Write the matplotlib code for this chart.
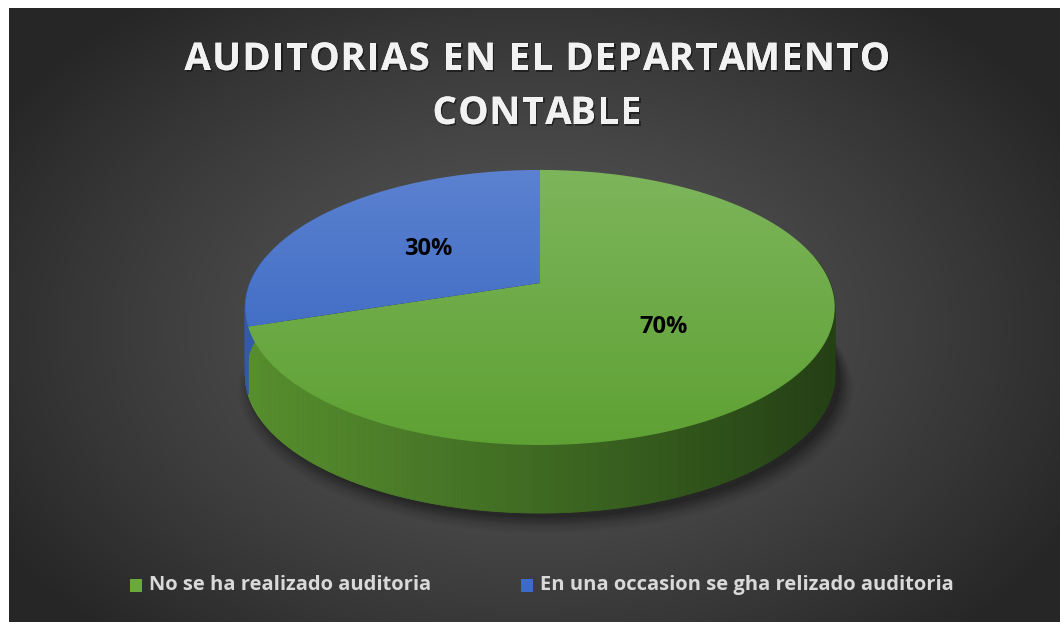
import numpy as np
import matplotlib
matplotlib.use("Agg")
import matplotlib.pyplot as plt
from matplotlib.patches import Polygon, Rectangle
from matplotlib.font_manager import FontProperties
import matplotlib.patheffects as pe

# ---- data ----
categories = ["No se ha realizado auditoria", "En una occasion se gha relizado auditoria"]
values = [70, 30]
pct_labels = ["70%", "30%"]
title_lines = ["AUDITORIAS EN EL DEPARTAMENTO", "CONTABLE"]

# ---- styles ----
top_colors = [((0.49, 0.71, 0.36), (0.37, 0.63, 0.20)),   # green top: light -> darker
              ((0.36, 0.51, 0.82), (0.19, 0.38, 0.74))]   # blue top
side_colors = [((0.34, 0.56, 0.18), (0.14, 0.25, 0.08)),  # green side: left -> right
               ((0.20, 0.35, 0.66), (0.10, 0.18, 0.40))]
legend_colors = ["#6aaa3a", "#3d6cc8"]
FONT = "Open Sans"

W, H = 1060, 622
fig = plt.figure(figsize=(W / 100, H / 100), dpi=100)
fig.patch.set_facecolor("white")
ax = fig.add_axes([0, 0, 1, 1])
ax.set_xlim(0, W)
ax.set_ylim(H, 0)
ax.axis("off")
renderer = fig.canvas.get_renderer()

# ---- background radial gradient ----
x0, y0 = 9, 8
gx, gy = np.meshgrid(np.linspace(x0, W, 400), np.linspace(y0, H, 250))
d = np.sqrt(((gx - 530) / 620) ** 2 + ((gy - 330) / 420) ** 2)
d = np.clip(d, 0, 1)
lum = (0.345 - (0.345 - 0.15) * d ** 1.3)
bg = np.dstack([lum, lum, lum])
ax.imshow(bg, extent=[x0, W, H, y0], aspect="auto", zorder=0, interpolation="bilinear")

# ---- perspective pie projection ----
cx, cy = 540, 283
A, Q, p = 290, 133.2, 0.178
depth = 68


def proj(theta_deg, r=1.0):
    t = np.radians(theta_deg)
    X = r * np.cos(t)
    Y = r * np.sin(t)
    s = 1 + p * Y
    return cx + A * X / s, cy - Q * Y / s


# shadow under the pie
ths = np.linspace(0, 360, 361)
for k, a in zip(range(8), np.linspace(0.10, 0.02, 8)):
    sx, sy = proj(ths, 1.0 + 0.006 * k)
    ax.add_patch(Polygon(np.column_stack([sx + 6, sy + depth + 5 + k]),
                         closed=True, facecolor="black", edgecolor="none",
                         alpha=a, zorder=1))

total = float(sum(values))
start = 90.0
wedges = []
for v in values:
    sweep = 360.0 * v / total
    wedges.append((start, start - sweep))
    start -= sweep

# sides with horizontal gradient
xmin_p, xmax_p = cx - A * 1.02, cx + A * 1.02
for (a0, a1), (cl, cr) in zip(wedges, side_colors):
    th = np.linspace(a0, a1, max(int(abs(a1 - a0) * 2), 4))
    sx, sy = proj(th)
    for i in range(len(th) - 1):
        if np.sin(np.radians((th[i] + th[i + 1]) / 2)) > 0.2:
            continue
        xm = (sx[i] + sx[i + 1]) / 2
        f = np.clip((xm - xmin_p) / (xmax_p - xmin_p), 0, 1) ** 1.1
        col = tuple(np.array(cl) * (1 - f) + np.array(cr) * f)
        quad = [(sx[i], sy[i]), (sx[i + 1], sy[i + 1]),
                (sx[i + 1], sy[i + 1] + depth), (sx[i], sy[i] + depth)]
        ax.add_patch(Polygon(quad, closed=True, facecolor=col, edgecolor=col,
                             linewidth=0.6, zorder=2))

# tops with vertical gradient
ytop, ybot = proj(90)[1], proj(-90)[1]
for (a0, a1), (ct, cb) in zip(wedges, top_colors):
    th = np.linspace(a0, a1, 300)
    sx, sy = proj(th)
    pts = np.vstack([[cx, cy], np.column_stack([sx, sy])])
    poly = Polygon(pts, closed=True, facecolor="none", edgecolor="none", zorder=3)
    ax.add_patch(poly)
    g = np.linspace(0, 1, 200)[:, None]
    img = np.array(ct)[None, None, :] * (1 - g[..., None]) + np.array(cb)[None, None, :] * g[..., None]
    img = np.repeat(img, 2, axis=1)
    im = ax.imshow(img, extent=[xmin_p - 5, xmax_p + 5, ybot + 2, ytop - 2],
                   aspect="auto", zorder=3, interpolation="bilinear")
    im.set_clip_path(poly)

# percentage labels
for (a0, a1), lab in zip(wedges, pct_labels):
    lx, ly = proj((a0 + a1) / 2, 0.5)
    ax.text(lx, ly + 9, lab, ha="center", va="baseline", fontsize=17, fontweight="bold",
            family=FONT, color="black", zorder=5)

# title with letter spacing
tfp = FontProperties(family=FONT, weight="bold", size=27.5)
shadow = [pe.withSimplePatchShadow(offset=(1, -1.2), shadow_rgbFace="black", alpha=0.45), pe.Normal()]


def text_w(s):
    if s == "":
        return 0.0
    w, _, _ = renderer.get_text_width_height_descent(s, tfp, ismath=False)
    return w


target_w = 705.0
line0 = title_lines[0]
spacing = (target_w - text_w(line0)) / (len(line0) - 1)
for line, ybase in zip(title_lines, [70, 124]):
    n = len(line)
    total_w = text_w(line) + spacing * (n - 1)
    left = 537 - total_w / 2
    for i, ch in enumerate(line):
        if ch == " ":
            continue
        xpos = left + text_w(line[:i]) + spacing * i
        ax.text(xpos, ybase, ch, ha="left", va="baseline", fontproperties=tfp,
                color="#f2f2f2", zorder=5, path_effects=shadow)

# legend
leg_x = [130, 521]
for x, cat, c in zip(leg_x, categories, legend_colors):
    ax.add_patch(Rectangle((x, 579), 12, 13, facecolor=c, edgecolor="none", zorder=5))
    ax.text(x + 19, 585, cat, ha="left", va="center", fontsize=14.5, fontweight="bold",
            family=FONT, color="#d9d9d9", zorder=5)

fig.savefig("out.png", dpi=100, facecolor=fig.get_facecolor())
